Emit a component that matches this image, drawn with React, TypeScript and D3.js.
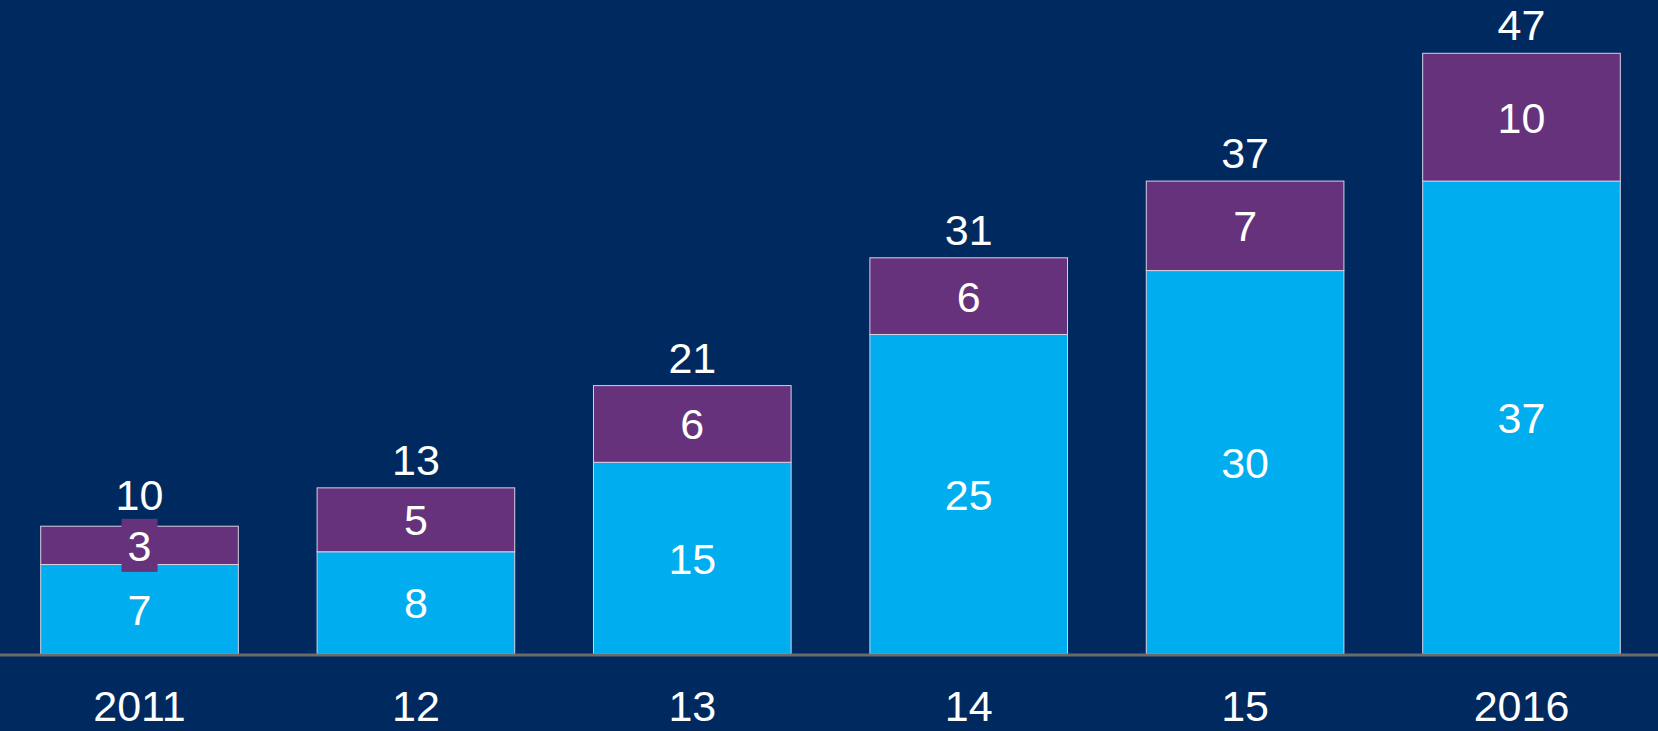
import React from "react";
import * as d3 from "d3";

const categories = ["2011", "12", "13", "14", "15", "2016"];
const blueValues = [7, 8, 15, 25, 30, 37];
const purpleValues = [3, 5, 6, 6, 7, 10];
const totals = [10, 13, 21, 31, 37, 47];

const W = 1658;
const H = 731;
const BG = "#002a5f";
const BLUE = "#00aeef";
const PURPLE = "#66327b";
const FONT = "'Liberation Sans', Arial, Helvetica, sans-serif";

export default function App() {
  const x = d3
    .scaleBand<string>()
    .domain(categories)
    .range([40.7, 1620.3])
    .paddingInner(0.285)
    .paddingOuter(0);
  const baseY = 654;
  const y = d3.scaleLinear().domain([0, 47]).range([baseY, 53.3]);
  const bw = x.bandwidth();

  const series = [
    { values: blueValues, color: BLUE },
    { values: purpleValues, color: PURPLE },
  ];

  return (
    <svg
      width={W}
      height={H}
      style={{ position: "absolute", left: 0, top: 0, display: "block" }}
      fontFamily={FONT}
    >
      <rect x={0} y={0} width={W} height={H} fill={BG} />
      {categories.map((c, i) => {
        let acc = 0;
        const x0 = x(c)!;
        return (
          <g key={c}>
            {series.map((s, si) => {
              const v = s.values[i];
              const y0 = y(acc);
              const y1 = y(acc + v);
              acc += v;
              return (
                <rect
                  key={si}
                  x={x0}
                  y={y1}
                  width={bw}
                  height={y0 - y1}
                  fill={s.color}
                  stroke="#d6d0e4"
                  strokeWidth={1}
                />
              );
            })}
          </g>
        );
      })}
      <line x1={0} x2={W} y1={baseY + 1} y2={baseY + 1} stroke="#6b6b6b" strokeWidth={3} />
      {categories.map((c, i) => {
        let acc = 0;
        const x0 = x(c)!;
        const cx = x0 + bw / 2;
        let topObstacle = y(totals[i]);
        const segs = series.map((s, si) => {
          const v = s.values[i];
          const y0 = y(acc);
          const y1 = y(acc + v);
          acc += v;
          const cy = (y0 + y1) / 2;
          const label = String(v);
          const boxW = label.length * 24 + 12;
          const boxTop = cy - 26.5;
          if (si === 1) topObstacle = Math.min(topObstacle, boxTop + 4);
          return (
            <g key={si}>
              {si === 1 && (
                <rect x={cx - boxW / 2} y={boxTop} width={boxW} height={53} fill={s.color} />
              )}
              <text x={cx} y={cy + 15.5} textAnchor="middle" fill="#ffffff" fontSize={43}>
                {label}
              </text>
            </g>
          );
        });
        return (
          <g key={"l" + c}>
            {segs}
            <text
              x={cx}
              y={topObstacle - 13}
              textAnchor="middle"
              fill="#ffffff"
              fontSize={43}
            >
              {totals[i]}
            </text>
            <text x={cx} y={721} textAnchor="middle" fill="#ffffff" fontSize={43}>
              {c}
            </text>
          </g>
        );
      })}
    </svg>
  );
}
